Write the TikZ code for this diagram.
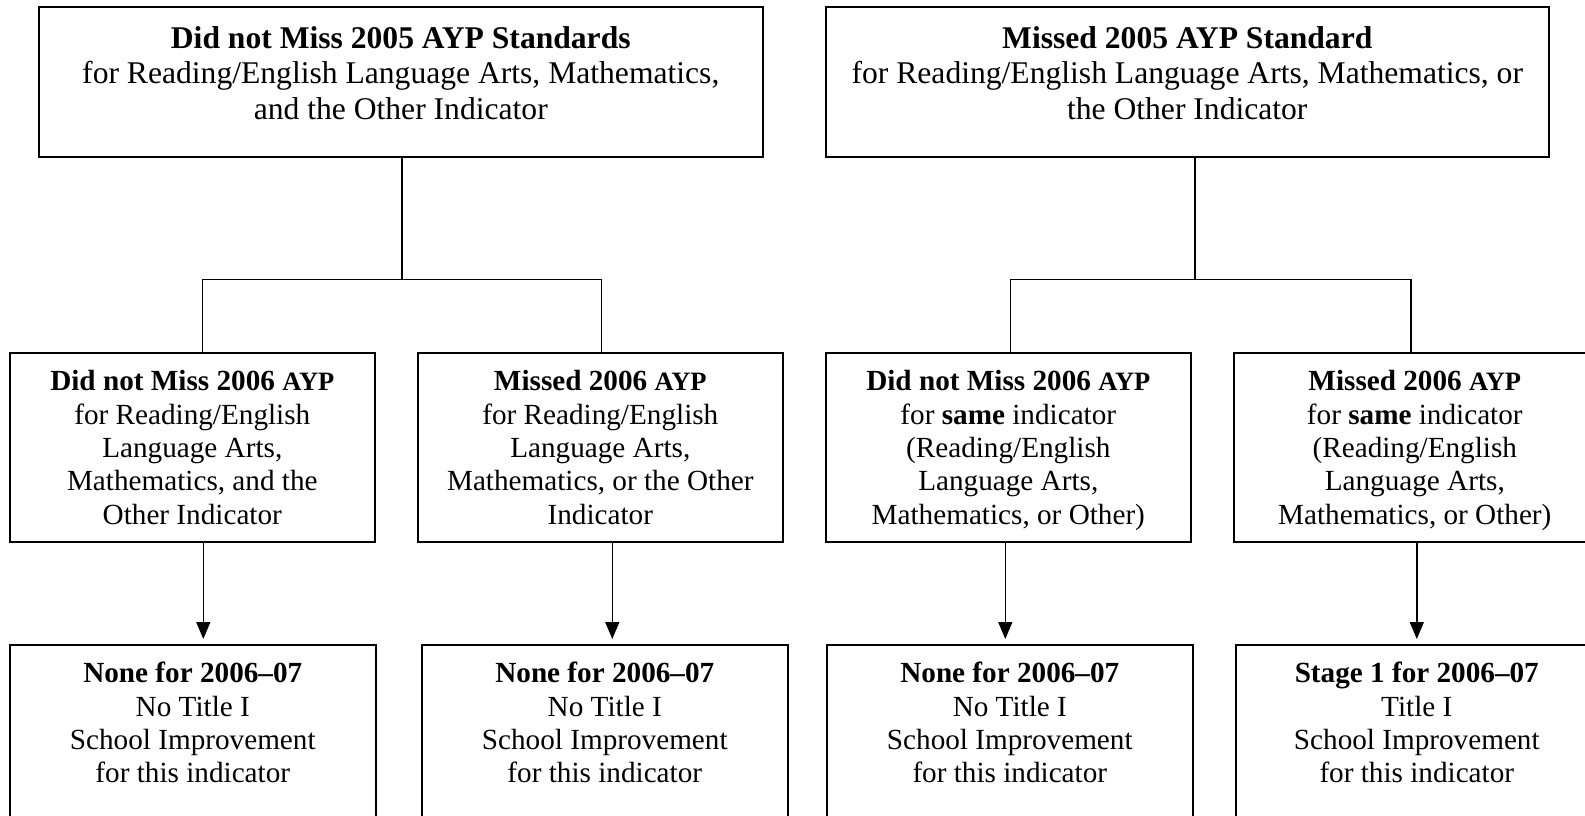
\documentclass[tikz,border=0pt]{standalone}
\usepackage{fontspec}
\setmainfont{Liberation Serif}
\usetikzlibrary{arrows.meta}
\newcommand\boxbody[4]{\parbox[c][#2][t]{#1}{\centering\rule{0pt}{#3}#4}}
\newcommand\smallayp{{\fontsize{26.5}{30}\selectfont AYP}}
\begin{document}
\begin{tikzpicture}[x=1pt,y=-1pt,
  box/.style={draw, line width=1.6pt, inner sep=0pt, anchor=north west},
  topfont/.style={font=\fontsize{31.6}{35.4}\selectfont},
  midfont/.style={font=\fontsize{29.2}{33.3}\selectfont},
  line/.style={line width=1.5pt},
  arr/.style={line width=1.5pt, -{Triangle[length=17pt,width=14pt]}, shorten >=5pt}]
\useasboundingbox (0,0) rectangle (1585,815);
\clip (0,0) rectangle (1585,815);
\fill[white] (0,0) rectangle (1585,815);
% top boxes
\node[box, topfont] (tl) at (38,6) {\boxbody{724pt}{150pt}{41.7pt}{\textbf{Did not Miss 2005 AYP Standards}\\ for Reading/English Language Arts, Mathematics,\\ and the Other Indicator}};
\node[box, topfont] (tr) at (825,6) {\boxbody{723pt}{150pt}{41.7pt}{\textbf{Missed 2005 AYP Standard}\\ for Reading/English Language Arts, Mathematics, or\\ the Other Indicator}};
% middle boxes
\node[box, midfont] (m1) at (9,352) {\boxbody{365pt}{189pt}{38pt}{\textbf{Did not Miss 2006 \smallayp}\\ for Reading/English\\ Language Arts,\\ Mathematics, and the\\ Other Indicator}};
\node[box, midfont] (m2) at (417,352) {\boxbody{365pt}{189pt}{38pt}{\textbf{Missed 2006 \smallayp}\\ for Reading/English\\ Language Arts,\\ Mathematics, or the Other\\ Indicator}};
\node[box, midfont] (m3) at (825,352) {\boxbody{365pt}{189pt}{38pt}{\textbf{Did not Miss 2006 \smallayp}\\ for \textbf{same} indicator\\ (Reading/English\\ Language Arts,\\ Mathematics, or Other)}};
\node[box, midfont] (m4) at (1233,352) {\boxbody{362pt}{189pt}{38pt}{\textbf{Missed 2006 \smallayp}\\ for \textbf{same} indicator\\ (Reading/English\\ Language Arts,\\ Mathematics, or Other)}};
% bottom boxes
\node[box, midfont] (b1) at (9,644) {\boxbody{366pt}{230pt}{38pt}{\textbf{None for 2006--07}\\ No Title I\\ School Improvement\\ for this indicator}};
\node[box, midfont] (b2) at (421,644) {\boxbody{366pt}{230pt}{38pt}{\textbf{None for 2006--07}\\ No Title I\\ School Improvement\\ for this indicator}};
\node[box, midfont] (b3) at (826,644) {\boxbody{366pt}{230pt}{38pt}{\textbf{None for 2006--07}\\ No Title I\\ School Improvement\\ for this indicator}};
\node[box, midfont] (b4) at (1235,644) {\boxbody{362pt}{230pt}{38pt}{\textbf{Stage 1 for 2006--07}\\ Title I\\ School Improvement\\ for this indicator}};
% tree connectors
\draw[line] ([xshift=1pt]tl.south) -- ++(0,122) coordinate (jl);
\draw[line] ([xshift=10pt]m1.north) |- (jl) -| ([xshift=1pt]m2.north);
\draw[line] ([xshift=7.5pt]tr.south) -- ++(0,122) coordinate (jr);
\draw[line] ([xshift=2pt]m3.north) |- (jr) -| ([xshift=-4pt]m4.north);
% arrows
\draw[arr] ([xshift=11pt]m1.south) -- ([xshift=11pt]m1.south |- b1.north);
\draw[arr] ([xshift=12pt]m2.south) -- ([xshift=12pt]m2.south |- b2.north);
\draw[arr] ([xshift=-3pt]m3.south) -- ([xshift=-3pt]m3.south |- b3.north);
\draw[arr] ([xshift=2pt]m4.south) -- ([xshift=2pt]m4.south |- b4.north);
\end{tikzpicture}
\end{document}
